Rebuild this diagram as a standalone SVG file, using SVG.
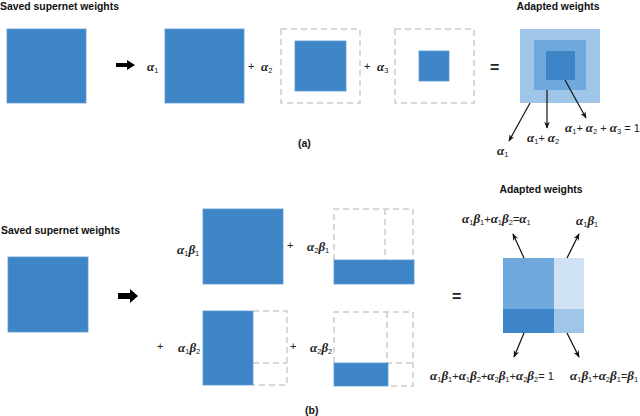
<svg xmlns="http://www.w3.org/2000/svg" width="640" height="416" viewBox="0 0 640 416">
<defs>
<style>
.t{font-family:"Liberation Sans",Arial,sans-serif;font-weight:bold;font-size:10.4px;fill:#111}
.m{font-family:"Liberation Serif","Times New Roman",serif;font-style:italic;font-weight:bold;font-size:13px;fill:#222}
.s{font-family:"Liberation Sans",Arial,sans-serif;font-style:normal;font-weight:normal;font-size:7.5px}
.o{font-family:"Liberation Sans",Arial,sans-serif;font-style:normal;font-weight:normal;font-size:11px;fill:#222}
.eq{font-family:"Liberation Sans",Arial,sans-serif;font-weight:bold;font-size:16px;fill:#222}
.b1{fill:#3d85c6;stroke:#5b9bd5;stroke-width:0.8}
.b2{fill:#6fa8dc}
.b3{fill:#9fc5e8}
.b4{fill:#cfe2f3}
.d{fill:none;stroke:#cccccc;stroke-width:1.5;stroke-dasharray:6 4}
.c{stroke:#111;stroke-width:1.2;fill:none;marker-end:url(#ah)}
</style>
<marker id="ah" viewBox="0 0 10 8" refX="9" refY="4" markerWidth="7" markerHeight="6" markerUnits="userSpaceOnUse" orient="auto">
<path d="M0,0 L10,4 L0,8 L3,4 z" fill="#111"/>
</marker>
</defs>
<rect width="640" height="416" fill="#fff"/>

<!-- (a) -->
<g id="a-title"><text class="t" x="0" y="10">Saved supernet weights</text></g>
<g id="a-saved"><rect class="b1" x="7" y="29" width="79" height="74"/></g>
<g id="a-arrow"><polygon points="116,63 127,63 127,60 135,65 127,70 127,67 116,67" fill="#000"/></g>
<g id="a-term1">
<text class="m" x="147" y="71">α<tspan class="s" dy="2">1</tspan></text>
<rect class="b1" x="165" y="29" width="79" height="74"/>
</g>
<g id="a-term2">
<text class="o" x="248" y="70">+</text>
<text class="m" x="261" y="71">α<tspan class="s" dy="2">2</tspan></text>
<rect class="d" x="281" y="29" width="79" height="74"/>
<rect class="b1" x="295" y="41" width="51" height="50"/>
</g>
<g id="a-term3">
<text class="o" x="364" y="70">+</text>
<text class="m" x="377" y="71">α<tspan class="s" dy="2">3</tspan></text>
<rect class="d" x="395" y="29" width="79" height="74"/>
<rect class="b1" x="419" y="51" width="30" height="30"/>
</g>
<g id="a-eq"><text class="eq" x="490" y="73">=</text></g>
<g id="a-adapted">
<text class="t" x="558" y="10" text-anchor="middle">Adapted weights</text>
<rect class="b3" x="520" y="29" width="80" height="74"/>
<rect class="b2" x="534" y="40" width="52" height="50"/>
<rect fill="#3d85c6" x="546" y="51" width="29" height="29"/>
</g>
<g id="a-labels">
<text class="m" x="497" y="155">α<tspan class="s" dy="2">1</tspan></text>
<text class="m" x="527" y="142">α<tspan class="s" dy="2">1</tspan><tspan class="o" dy="-2">+ </tspan>α<tspan class="s" dy="2">2</tspan></text>
<text class="m" x="565" y="132">α<tspan class="s" dy="2">1</tspan><tspan class="o" dy="-2">+ </tspan>α<tspan class="s" dy="2">2</tspan><tspan class="o" dy="-2"> + </tspan>α<tspan class="s" dy="2">3</tspan><tspan class="o" dy="-2"> = 1</tspan></text>
<text class="t" x="298" y="147" style="font-size:10.5px">(a)</text>
</g>
<g id="a-connectors">
<line class="c" x1="530" y1="103" x2="509" y2="141"/>
<line class="c" x1="547" y1="90" x2="547" y2="128"/>
<line class="c" x1="565" y1="80" x2="586" y2="118"/>
</g>

<!-- (b) -->
<g id="b-title"><text class="t" x="1" y="234">Saved supernet weights</text></g>
<g id="b-saved"><rect class="b1" x="8" y="257" width="80" height="75"/></g>
<g id="b-arrow"><polygon points="118,293 130,293 130,289 138,296 130,303 130,299 118,299" fill="#000"/></g>
<g id="b-term11">
<text class="m" x="177" y="254">α<tspan class="s" dy="2">1</tspan><tspan dy="-2">β</tspan><tspan class="s" dy="2">1</tspan></text>
<rect class="b1" x="203" y="209" width="80" height="75"/>
</g>
<g id="b-term21">
<text class="o" x="287" y="249">+</text>
<text class="m" x="307" y="251">α<tspan class="s" dy="2">2</tspan><tspan dy="-2">β</tspan><tspan class="s" dy="2">1</tspan></text>
<path class="d" d="M334,260 V209 H413 V260 M385,209 V260"/>
<rect class="b1" x="334" y="260" width="80" height="24"/>
</g>
<g id="b-term12">
<text class="o" x="157" y="350">+</text>
<text class="m" x="178" y="352">α<tspan class="s" dy="2">1</tspan><tspan dy="-2">β</tspan><tspan class="s" dy="2">2</tspan></text>
<path class="d" d="M253,311 H287 V385 H253 M253,363 H287"/>
<rect class="b1" x="203" y="311" width="50" height="74"/>
</g>
<g id="b-term22">
<text class="o" x="290" y="350">+</text>
<text class="m" x="310" y="352">α<tspan class="s" dy="2">2</tspan><tspan dy="-2">β</tspan><tspan class="s" dy="2">2</tspan></text>
<path class="d" d="M334,363 V312 H413 V386 H388 M387,312 V363 H413"/>
<rect class="b1" x="334" y="363" width="54" height="23"/>
</g>
<g id="b-eq"><text class="eq" x="452" y="302">=</text></g>
<g id="b-adapted">
<text class="t" x="541" y="193" text-anchor="middle">Adapted weights</text>
<rect class="b2" x="503" y="258" width="51" height="51"/>
<rect class="b4" x="554" y="258" width="30" height="51"/>
<rect fill="#3d85c6" x="503" y="309" width="51" height="24"/>
<rect class="b3" x="554" y="309" width="30" height="24"/>
</g>
<g id="b-labels">
<text class="m" x="462" y="223">α<tspan class="s" dy="2">1</tspan><tspan dy="-2">β</tspan><tspan class="s" dy="2">1</tspan><tspan class="o" dy="-2">+</tspan>α<tspan class="s" dy="2">1</tspan><tspan dy="-2">β</tspan><tspan class="s" dy="2">2</tspan><tspan class="o" dy="-2">=</tspan>α<tspan class="s" dy="2">1</tspan></text>
<text class="m" x="576" y="225">α<tspan class="s" dy="2">1</tspan><tspan dy="-2">β</tspan><tspan class="s" dy="2">1</tspan></text>
<text class="m" x="430" y="380">α<tspan class="s" dy="2">1</tspan><tspan dy="-2">β</tspan><tspan class="s" dy="2">1</tspan><tspan class="o" dy="-2">+</tspan>α<tspan class="s" dy="2">1</tspan><tspan dy="-2">β</tspan><tspan class="s" dy="2">2</tspan><tspan class="o" dy="-2">+</tspan>α<tspan class="s" dy="2">2</tspan><tspan dy="-2">β</tspan><tspan class="s" dy="2">1</tspan><tspan class="o" dy="-2">+</tspan>α<tspan class="s" dy="2">2</tspan><tspan dy="-2">β</tspan><tspan class="s" dy="2">2</tspan><tspan class="o" dy="-2">= 1</tspan></text>
<text class="m" x="570" y="380">α<tspan class="s" dy="2">1</tspan><tspan dy="-2">β</tspan><tspan class="s" dy="2">1</tspan><tspan class="o" dy="-2">+</tspan>α<tspan class="s" dy="2">2</tspan><tspan dy="-2">β</tspan><tspan class="s" dy="2">1</tspan><tspan class="o" dy="-2">=</tspan>β<tspan class="s" dy="2">1</tspan></text>
<text class="t" x="305" y="414" style="font-size:10.5px">(b)</text>
</g>
<g id="b-connectors">
<line class="c" x1="524" y1="258" x2="513" y2="234"/>
<line class="c" x1="567" y1="258" x2="579" y2="234"/>
<line class="c" x1="524" y1="333" x2="514" y2="357"/>
<line class="c" x1="567" y1="333" x2="579" y2="357"/>
</g>
</svg>
